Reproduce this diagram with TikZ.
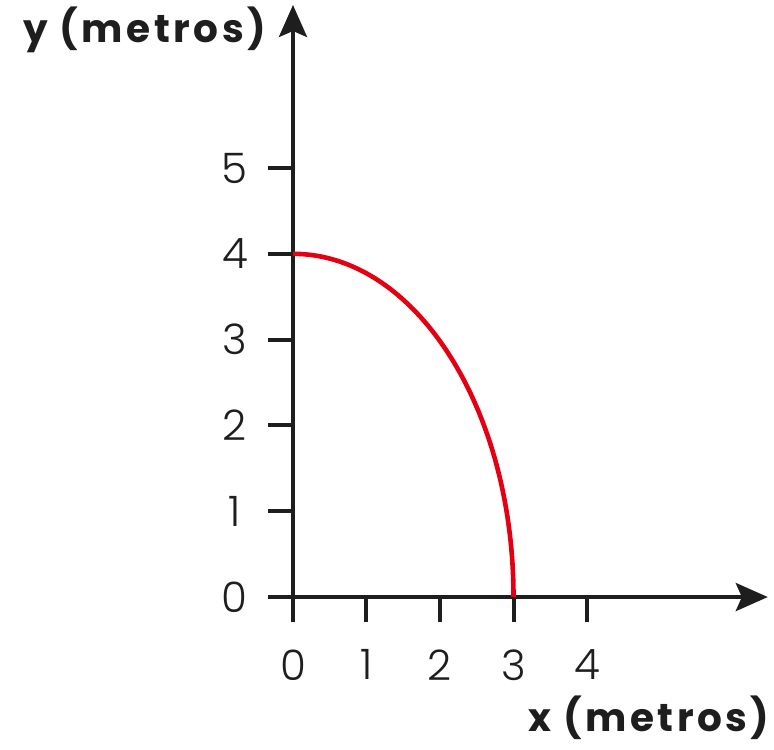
\documentclass[tikz,border=0pt]{standalone}
\usepackage{fontspec}
\setmainfont{Poppins}
\newfontfamily\tickfont{Poppins Light}
\usetikzlibrary{arrows.meta}
\definecolor{inkgray}{RGB}{30,30,30}
\definecolor{curvered}{RGB}{228,0,18}
\begin{document}
\begin{tikzpicture}[x=36.75pt,y=42.9pt,
  axis/.style={line width=2pt,draw=inkgray,-{Stealth[length=16pt,width=14pt,inset=3pt]}},
  tickmark/.style={line width=2pt,draw=inkgray},
  num/.style={font=\tickfont\fontsize{21}{21}\selectfont,text=inkgray,inner sep=0pt},
  lbl/.style={font=\bfseries\fontsize{19.5}{19.5}\selectfont\addfontfeature{LetterSpace=9},text=inkgray,inner sep=0pt}]
  \useasboundingbox (-3.986,-1.772) rectangle (6.544,6.958);
  \coordinate (O) at (0,0);
  \coordinate (xend) at (6.46,0);
  \coordinate (yend) at (0,6.90);
  % tick marks and their numbers
  \foreach \i in {0,...,4}{
    \draw[tickmark] (\i,0) -- ++(0,-0.29);
    \node[num] (X\i) at (\i,-0.79) {\i};
  }
  \foreach \i in {0,...,5}{
    \draw[tickmark] (0,\i) -- ++(-0.34,0);
    \node[num] (Y\i) at (-0.79,\i) {\i};
  }
  \draw[axis] (O) -- (xend);
  \draw[axis] (O) -- (yend);
  % quarter of the ellipse from (0,4) to (3,0)
  \draw[curvered,line width=2.3pt] (0,4) arc[start angle=90,end angle=0,x radius=3,y radius=4];
  \node[lbl,anchor=east] (ylabel) at (-0.36,6.61) {y (metros)};
  \node[lbl,anchor=east] (xlabel) at (6.49,-1.41) {x (metros)};
\end{tikzpicture}
\end{document}
